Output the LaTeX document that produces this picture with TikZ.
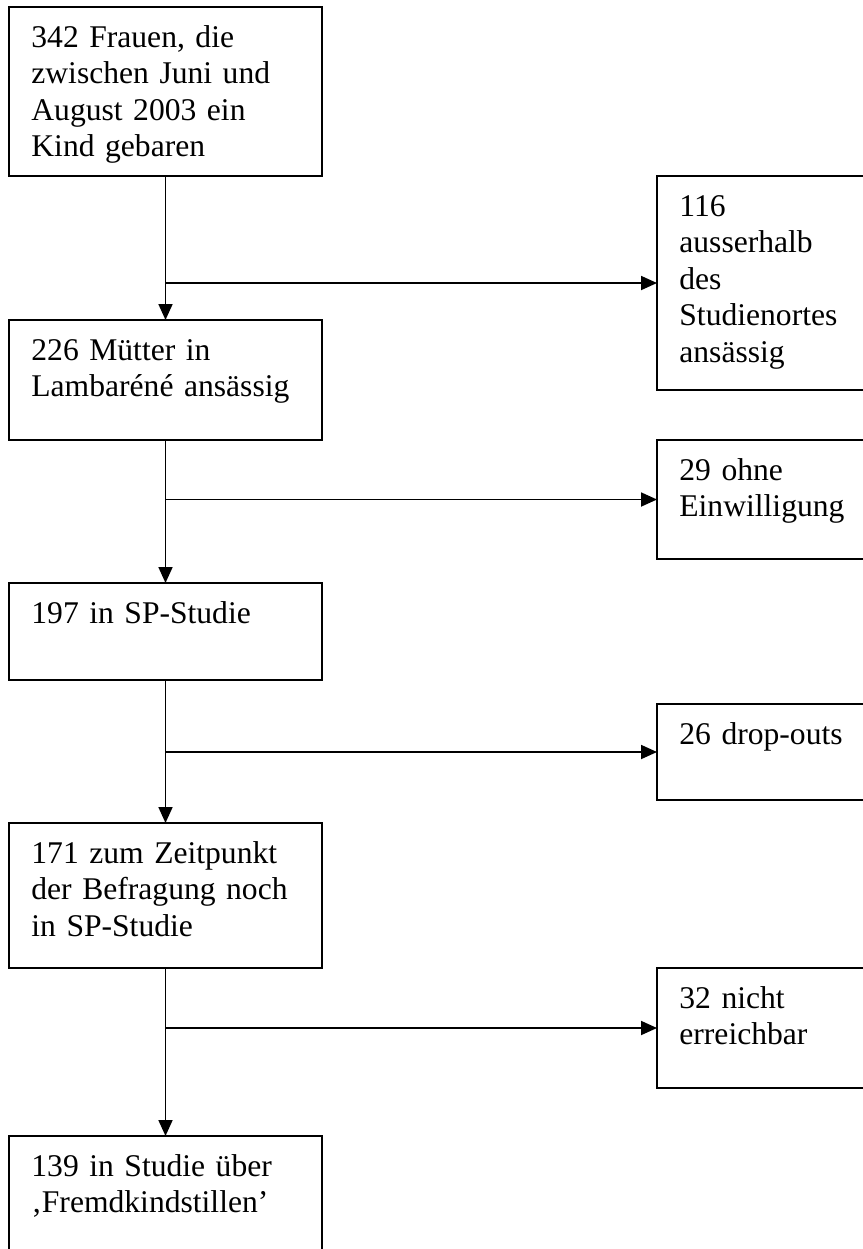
\documentclass[tikz,border=0pt]{standalone}
\usepackage{fontspec}
\setmainfont{Liberation Serif}
\usetikzlibrary{arrows.meta}

\begin{document}
\begin{tikzpicture}[
  x=1pt, y=-1pt,
  flowbox/.style={draw, line width=1pt, anchor=north west, inner sep=0pt, outer sep=0pt},
  leftbox/.style={flowbox, minimum width=156.5pt},
  sidebox/.style={flowbox, minimum width=130pt},
  boxtext/.style={anchor=base west, inner sep=0pt, align=left, text width=#1,
    font=\fontsize{15.8}{18.3}\selectfont},
  link/.style={line width=0.9pt, -{Triangle[length=8pt,width=7pt]}}
]
\useasboundingbox (0,0) rectangle (431.5,624.5);
\clip (0,0) rectangle (431.5,624.5);

% main column
\node (l1) [leftbox, minimum height=84.5pt] at (4.5,3.5)   {};
\node (l2) [leftbox, minimum height=60pt]   at (4.5,160)   {};
\node (l3) [leftbox, minimum height=48.5pt] at (4.5,291.5) {};
\node (l4) [leftbox, minimum height=72.5pt] at (4.5,411.5) {};
\node (l5) [leftbox, minimum height=80pt]   at (4.5,568)   {}; % runs off the page

% excluded ones
\node (r1) [sidebox, minimum height=107pt]  at (328.5,88)  {};
\node (r2) [sidebox, minimum height=59.5pt] at (328.5,220) {};
\node (r3) [sidebox, minimum height=48pt]   at (328.5,352) {};
\node (r4) [sidebox, minimum height=60pt]   at (328.5,484) {};

% texts
\node (t1) [boxtext=140pt] at ([shift={(11,20)}]l1.north west)
  {342 Frauen, die\\zwischen Juni und\\August 2003 ein\\Kind gebaren};
\node (t2) [boxtext=140pt] at ([shift={(11,20)}]l2.north west)
  {226 Mütter in\\Lambaréné ansässig};
\node (t3) [boxtext=140pt] at ([shift={(11,20)}]l3.north west)
  {197 in SP-Studie};
\node (t4) [boxtext=140pt] at ([shift={(11,20)}]l4.north west)
  {171 zum Zeitpunkt\\der Befragung noch\\in SP-Studie};
\node (t5) [boxtext=140pt] at ([shift={(11,20)}]l5.north west)
  {139 in Studie über\\‚Fremdkindstillen’};

\node (s1) [boxtext=95pt] at ([shift={(11,20)}]r1.north west)
  {116\\ausserhalb\\des\\Studienortes\\ansässig};
\node (s2) [boxtext=95pt] at ([shift={(11,20)}]r2.north west)
  {29 ohne\\Einwilligung};
\node (s3) [boxtext=95pt] at ([shift={(11,20)}]r3.north west)
  {26 drop-outs};
\node (s4) [boxtext=95pt] at ([shift={(11,20)}]r4.north west)
  {32 nicht\\erreichbar};

% down the column
\draw[link] (l1) -- (l2);
\draw[link] (l2) -- (l3);
\draw[link] (l3) -- (l4);
\draw[link] (l4) -- (l5);

% branches to the right
\draw[link] (l1.south |- r1.west) -- (r1.west);
\draw[link] (l2.south |- r2.west) -- (r2.west);
\draw[link] (l3.south |- r3.west) -- (r3.west);
\draw[link] (l4.south |- r4.west) -- (r4.west);
\end{tikzpicture}
\end{document}
